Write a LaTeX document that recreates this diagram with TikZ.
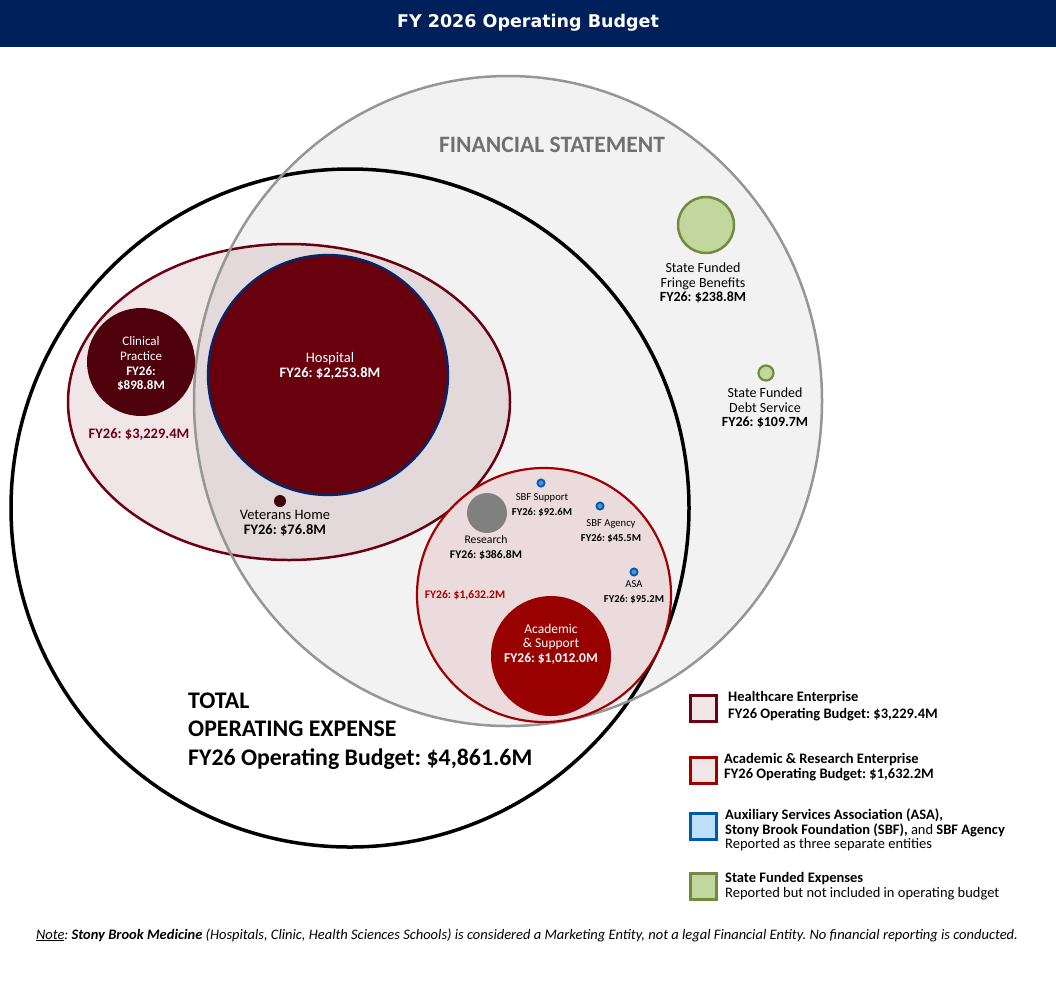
\documentclass[tikz,border=0pt]{standalone}
\usepackage{fontspec}
\setmainfont{Carlito}
\newfontfamily\titlefont{DejaVu Sans}
\newcommand\fsz[2]{\fontsize{#1}{#2}\selectfont}
\frenchspacing
\definecolor{navy}{RGB}{0,32,91}
\definecolor{hospfill}{RGB}{104,0,14}
\definecolor{hospline}{RGB}{0,40,110}
\definecolor{clinfill}{RGB}{78,0,12}
\definecolor{vetfill}{RGB}{64,0,12}
\definecolor{hcline}{RGB}{110,0,20}
\definecolor{hcfill}{RGB}{240,229,231}
\definecolor{acline}{RGB}{160,0,0}
\definecolor{acfill}{RGB}{235,219,220}
\definecolor{acsupp}{RGB}{153,0,0}
\definecolor{resfill}{RGB}{128,128,128}
\definecolor{bluefill}{RGB}{80,140,225}
\definecolor{blueline}{RGB}{0,90,170}
\definecolor{legblue}{RGB}{190,224,252}
\definecolor{greenfill}{RGB}{195,214,158}
\definecolor{greenline}{RGB}{112,140,60}
\definecolor{fsline}{RGB}{150,150,150}
\definecolor{fstext}{RGB}{112,112,112}
\definecolor{redtext}{RGB}{110,0,20}
\definecolor{redtext2}{RGB}{170,0,0}
\tikzset{
  lbl/.style={align=center, inner sep=0pt},
  legbox/.style={minimum size=26pt, inner sep=0pt, line width=3pt},
  legtxt/.style={anchor=west, align=left, inner sep=0pt, font=\fsz{14.5}{15}},
  bdot/.style={fill=bluefill, draw=blueline, line width=1.8pt},
}
\begin{document}
\begin{tikzpicture}[x=1pt,y=-1pt]
\path[use as bounding box] (0,0) rectangle (1056,986);
\fill[white] (0,0) rectangle (1056,986);
% title bar
\fill[navy] (0,0) rectangle (1056,47);
\node[lbl, text=white, font=\titlefont\bfseries\fsz{17.5}{20}] (title) at (528,23) {FY 2026 Operating Budget};
% total operating expense circle
\draw[black, line width=3.5pt] (350,508) circle (339pt);
% healthcare ellipse
\draw[hcline, fill=hcfill, line width=2.5pt] (289,402) ellipse [x radius=221pt, y radius=158pt];
% financial statement
\fill[black, fill opacity=0.05] (508,401) ellipse [x radius=314pt, y radius=325pt];
\draw[fsline, line width=2.5pt] (508,401) ellipse [x radius=314pt, y radius=325pt];
\node[lbl, text=fstext, font=\bfseries\fsz{23.5}{25}] (fs) at (552,145) {FINANCIAL STATEMENT};
% hospital
\draw[hospline, fill=hospfill, line width=2.3pt] (328,375) circle (120pt);
\node[lbl, text=white, font=\fsz{14.5}{15}] (hosp) at (330,366) {Hospital\\\textbf{FY26: \$2,253.8M}};
% clinical practice
\fill[clinfill] (141,362) circle (54pt);
\node[lbl, text=white, font=\fsz{13}{14.7}] (clin) at (141,364) {Clinical\\Practice\\\textbf{FY26:}\\\textbf{\$898.8M}};
\node[lbl, text=redtext, font=\bfseries\fsz{14.5}{15}] (hctot) at (139,435) {FY26: \$3,229.4M};
% veterans
\fill[vetfill] (280,501) circle (6pt);
\node[lbl, font=\fsz{14.5}{14.5}] (vet) at (285,523) {Veterans Home\\\textbf{FY26: \$76.8M}};
% academic & research
\draw[acline, fill=acfill, line width=2.2pt] (544,595) circle (127pt);
\fill[acsupp] (551,656) circle (60pt);
\node[lbl, text=white, font=\fsz{13.5}{14.5}] (acs) at (551,644) {Academic\\\& Support\\\textbf{FY26: \$1,012.0M}};
\node[lbl, text=redtext2, font=\bfseries\fsz{11.6}{13}] (actot) at (465,595) {FY26: \$1,632.2M};
\fill[resfill] (487,513) circle (20pt);
\node[lbl, font=\fsz{11.7}{15}] (res) at (486,548) {Research\\\textbf{FY26: \$386.8M}};
\draw[bdot] (541,483) circle (3.6pt);
\node[lbl, font=\fsz{10.6}{15}] (sbfs) at (542,505) {SBF Support\\\textbf{FY26: \$92.6M}};
\draw[bdot] (600,506) circle (3.6pt);
\node[lbl, font=\fsz{10.6}{15}] (sbfa) at (611,531) {SBF Agency\\\textbf{FY26: \$45.5M}};
\draw[bdot] (634,572) circle (3.6pt);
\node[lbl, font=\fsz{10.6}{15}] (asa) at (634,592) {ASA\\\textbf{FY26: \$95.2M}};
% state funded
\draw[greenline, fill=greenfill, line width=2.5pt] (706,225) circle (28pt);
\node[lbl, font=\fsz{14}{14.5}] (fringe) at (703,283) {State Funded\\Fringe Benefits\\\textbf{FY26: \$238.8M}};
\draw[greenline, fill=greenfill, line width=2.2pt] (766,373) circle (7.5pt);
\node[lbl, font=\fsz{14}{14.5}] (debt) at (765,408) {State Funded\\Debt Service\\\textbf{FY26: \$109.7M}};
% total label
\node[anchor=west, align=left, inner sep=0pt, font=\bfseries\fsz{23.8}{28.5}] (total) at (188,731) {TOTAL\\OPERATING EXPENSE\\FY26 Operating Budget: \$4,861.6M};
% legend
\node[legbox, draw=hcline, fill=hcfill] (lb1) at (703,708) {};
\node[legtxt, font=\fsz{14.5}{17}] (lt1) at (728,706) {\textbf{Healthcare Enterprise}\\\textbf{FY26 Operating Budget: \$3,229.4M}};
\node[legbox, draw=acline, fill=hcfill] (lb2) at (703,770) {};
\node[legtxt] (lt2) at (724,767) {\textbf{Academic \& Research Enterprise}\\\textbf{FY26 Operating Budget: \$1,632.2M}};
\node[legbox, draw=blueline, fill=legblue] (lb3) at (703,826) {};
\node[legtxt, font=\fsz{14.5}{14.5}] (lt3) at (725,830) {\textbf{Auxiliary Services Association (ASA),}\\\textbf{Stony Brook Foundation (SBF),} and \textbf{SBF Agency}\\Reported as three separate entities};
\node[legbox, draw=greenline, fill=greenfill] (lb4) at (703,886) {};
\node[legtxt, font=\fsz{14.5}{14.5}] (lt4) at (725,886) {\textbf{State Funded Expenses}\\Reported but not included in operating budget};
% note
\node[lbl, font=\itshape\fsz{14.5}{15}] (note) at (527,935) {\underline{Note}: \textbf{Stony Brook Medicine} (Hospitals, Clinic, Health Sciences Schools) is considered a Marketing Entity, not a legal Financial Entity. No financial reporting is conducted.};
\end{tikzpicture}
\end{document}
